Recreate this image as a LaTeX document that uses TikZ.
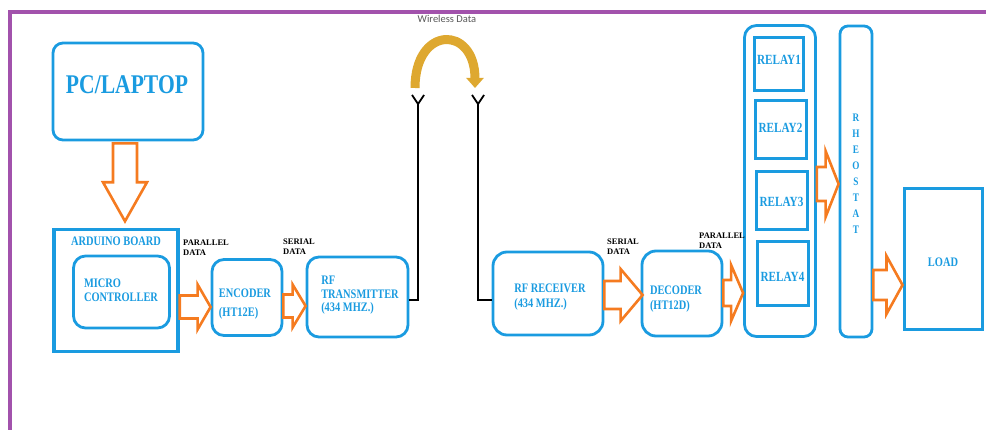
\documentclass[tikz,border=0pt]{standalone}
\usepackage{fontspec}
\usepackage{graphicx}
\setmainfont{Liberation Serif}
\newfontfamily\bfam{Liberation Serif}[FakeStretch=0.8]
\newfontfamily\wfam{Carlito}
\usetikzlibrary{calc,arrows.meta}
\definecolor{bblue}{RGB}{26,155,224}
\definecolor{aorange}{RGB}{245,123,32}
\definecolor{fpurple}{RGB}{162,82,172}
\definecolor{agold}{RGB}{222,168,48}
\newcommand\btf{\bfam\bfseries\fontsize{13}{15}\selectfont}
\newcommand\pcf{\bfam\bfseries\fontsize{27}{30}\selectfont}
\newcommand\dlf{\bfseries\fontsize{8.5}{10}\selectfont}
\tikzset{
  bx/.style={draw=bblue, line width=2.8pt, rounded corners=#1, inner sep=0pt},
  bx/.default=12pt,
  sq/.style={draw=bblue, line width=3pt, inner sep=0pt},
  bt/.style={text=bblue, font=\btf, align=left, inner sep=0pt},
  rt/.style={bt, font=\bfam\bfseries\fontsize{14}{15}\selectfont},
  dl/.style={font=\dlf, align=left, inner sep=0pt, anchor=west},
  wire/.style={draw=black, line width=1.8pt},
  oarr/.style={draw=aorange, line width=2.6pt, line join=miter},
  rarr/.style args={#1/#2/#3}{oarr, to path={let \p1=(\tikztostart), \p2=(\tikztotarget) in
    ({\x1},{\y1+#1}) -- ({\x2-#3},{\y1+#1}) -- ({\x2-#3},{\y1+#2}) -- ({\x2},{\y1})
    -- ({\x2-#3},{\y1-#2}) -- ({\x2-#3},{\y1-#1}) -- ({\x1},{\y1-#1}) -- cycle}},
  darr/.style args={#1/#2/#3}{oarr, to path={let \p1=(\tikztostart), \p2=(\tikztotarget) in
    ({\x1-#1},{\y1}) -- ({\x1-#1},{\y2+#3}) -- ({\x1-#2},{\y2+#3}) -- ({\x1},{\y2})
    -- ({\x1+#2},{\y2+#3}) -- ({\x1+#1},{\y2+#3}) -- ({\x1+#1},{\y1}) -- cycle}},
}
\begin{document}
\begin{tikzpicture}[x=1pt,y=-1pt]
\useasboundingbox (0,0) rectangle (986,430);
% frame
\draw[fpurple, line width=4pt, line join=miter] (10,430) -- (10,12) -- (986,12);
% boxes
\node[bx=10pt, minimum width=150pt, minimum height=97pt] (pc) at (128,91.5) {};
\node[sq, line width=3.5pt, minimum width=124pt, minimum height=122pt] (ard) at (116,290.5) {};
\node[bx, minimum width=96pt, minimum height=72pt] (mc) at (121.5,292) {};
\node[bx, minimum width=70pt, minimum height=76pt] (enc) at (247,297.5) {};
\node[bx, minimum width=101pt, minimum height=80pt] (tx) at (357.5,297) {};
\node[bx=14pt, minimum width=110pt, minimum height=83pt] (rx) at (548,293.5) {};
\node[bx=14pt, minimum width=80pt, minimum height=85pt] (dec) at (682,293.5) {};
\node[bx, minimum width=71pt, minimum height=311pt] (relays) at (780,181) {};
\node[sq, minimum width=49pt, minimum height=53pt] (r1) at (778.5,64.5) {};
\node[sq, minimum width=51pt, minimum height=58pt] (r2) at (780.5,130) {};
\node[sq, minimum width=51pt, minimum height=58pt] (r3) at (781.5,201) {};
\node[sq, minimum width=51pt, minimum height=64pt] (r4) at (782.5,274) {};
\node[bx=8pt, minimum width=32pt, minimum height=311pt] (rheo) at (856,181.5) {};
\node[sq, minimum width=78pt, minimum height=141pt] (load) at (943,259.5) {};
% texts
\node[bt, font=\pcf] (pct) at (127,85) {PC/LAPTOP};
\node[bt] (ardt) at (116,241) {ARDUINO BOARD};
\node[bt, font=\bfam\bfseries\fontsize{13}{14}\selectfont] (mct) at (121,290) {MICRO\\CONTROLLER};
\node[bt, font=\bfam\bfseries\fontsize{13}{19}\selectfont] (enct) at (245,304.5) {ENCODER\\(HT12E)};
\node[bt, font=\bfam\bfseries\fontsize{13}{13.5}\selectfont] (txt) at (360,295.5) {RF\\TRANSMITTER\\(434 MHZ.)};
\node[bt] (rxt) at (550,297.5) {RF RECEIVER\\(434 MHZ.)};
\node[bt] (dect) at (676,299.5) {DECODER\\(HT12D)};
\node[rt] (r1t) at (779,60) {RELAY1};
\node[rt] (r2t) at (780.5,128) {RELAY2};
\node[rt] (r3t) at (781.5,202) {RELAY3};
\node[rt] (r4t) at (782.5,277) {RELAY4};
\node[bt, align=center, font=\bfam\bfseries\fontsize{11.5}{16}\selectfont] (rheot) at (856,173.5) {R\\H\\E\\O\\S\\T\\A\\T};
\node[bt] (loadt) at (943,262) {LOAD};
% data labels
\node[dl] (pd1) at (183,248) {PARALLEL\\DATA};
\node[dl] (sd1) at (283,247) {SERIAL\\DATA};
\node[dl] (sd2) at (607,247) {SERIAL\\DATA};
\node[dl] (pd2) at (699,240.5) {PARALLEL\\DATA};
\node[font=\wfam\fontsize{10.5}{12}\selectfont, text=black!65, inner sep=0pt] (wd) at (447,19) {Wireless Data};
% block arrows
\draw[darr=12pt/22pt/39pt] ($(pc.south)+(-3,2)$) to ($(pc.south |- ard.north)+(-3,-6.5)$);
\draw[rarr=11.5pt/22.5pt/13pt] (ard.east |- 0,307) to (enc.west |- 0,307);
\draw[rarr=11.5pt/21.5pt/13pt] (enc.east |- 0,306) to (tx.west |- 0,306);
\draw[rarr=14pt/26pt/22pt] (rx.east |- 0,295) to ($(dec.west |- 0,295)+(2,0)$);
\draw[rarr=13pt/28pt/12pt] (dec.east |- 0,293) to (relays.west |- 0,293);
\draw[rarr=17pt/33pt/13pt] (relays.east |- 0,184) to (rheo.west |- 0,184);
\draw[rarr=15pt/29pt/16pt] (rheo.east |- 0,285) to (load.west |- 0,285);
% antennas
\coordinate (antT) at (418,104);
\coordinate (antR) at (478,104);
\draw[wire] (tx.east |- 0,300) -| (antT);
\draw[wire] (rx.west |- 0,300) -| (antR);
\draw[wire] (antT) -- ++(-6,-9) (antT) -- ++(6,-9);
\draw[wire] (antR) -- ++(-6,-9) (antR) -- ++(6,-9);
% wireless arc
\coordinate (wl) at (415,88);
\coordinate (wr) at (475,88);
\draw[agold, line width=9pt, -{Triangle[width=17pt,length=10pt]}] (wl) .. controls (415,25) and (475,25) .. (wr);
\end{tikzpicture}
\end{document}
